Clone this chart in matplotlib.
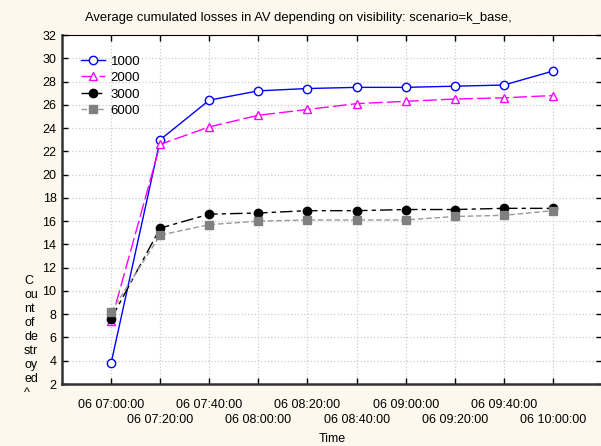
import pandas as pd
import matplotlib.pyplot as plt

# datos
tiempos = ['2000-01-06 07:00', '2000-01-06 07:20', '2000-01-06 07:40', '2000-01-06 08:00',
           '2000-01-06 08:20', '2000-01-06 08:40', '2000-01-06 09:00', '2000-01-06 09:20',
           '2000-01-06 09:40', '2000-01-06 10:00']
v1000 = [3.8, 23.0, 26.4, 27.2, 27.4, 27.5, 27.5, 27.6, 27.7, 28.9]
v2000 = [7.4, 22.6, 24.1, 25.1, 25.6, 26.1, 26.3, 26.5, 26.6, 26.8]
v3000 = [7.6, 15.4, 16.6, 16.7, 16.9, 16.9, 17.0, 17.0, 17.1, 17.1]
v6000 = [8.2, 14.8, 15.7, 16.0, 16.1, 16.1, 16.1, 16.4, 16.5, 16.9]
# etiquetas del eje x en dos filas
ticks_fila1 = ['2000-01-06 07:00', '2000-01-06 07:40', '2000-01-06 08:20',
               '2000-01-06 09:00', '2000-01-06 09:40']
ticks_fila2 = ['2000-01-06 07:20', '2000-01-06 08:00', '2000-01-06 08:40',
               '2000-01-06 09:20', '2000-01-06 10:00']
ticks_y = [2, 4, 6, 8, 10, 12, 14, 16, 18, 20, 22, 24, 26, 28, 30, 32]

t = pd.to_datetime(tiempos)

plt.rcParams['font.family'] = ['Liberation Sans', 'DejaVu Sans']
plt.rcParams['font.size'] = 9

fig = plt.figure(figsize=(6.01, 4.46), dpi=100, facecolor='#fcf8ee')
ax = fig.add_axes([0.1032, 0.139, 0.8985, 0.7825])

ax.plot(t, v1000, color='blue', lw=1, marker='o', ms=6, mfc='white', mec='blue', label='1000')
ax.plot(t, v2000, color='magenta', lw=1, dashes=(10, 3), marker='^', ms=6, mfc='white',
        mec='magenta', label='2000')
ax.plot(t, v3000, color='black', lw=1, dashes=(9, 3, 3, 3), marker='o', ms=6, mfc='black',
        mec='black', label='3000')
ax.plot(t, v6000, color='#999999', lw=1, dashes=(4, 2), marker='s', ms=6, mfc='#808080',
        mec='#808080', label='6000')

ax.set_xlim(pd.Timestamp('2000-01-06 06:40'), pd.Timestamp('2000-01-06 10:20'))
ax.set_ylim(2, 32)
ax.set_yticks(ticks_y)
f1 = pd.to_datetime(ticks_fila1)
f2 = pd.to_datetime(ticks_fila2)
ax.set_xticks(f1)
ax.set_xticklabels([x.strftime('%d %H:%M:%S') for x in f1])
ax.set_xticks(f2, minor=True)
ax.set_xticklabels([x.strftime('%d %H:%M:%S') for x in f2], minor=True)

ax.tick_params(which='both', direction='in', top=True, right=True, length=4, width=1,
               colors='black')
ax.tick_params(axis='x', which='major', pad=10.5)
ax.tick_params(axis='x', which='minor', pad=21.5)
ax.tick_params(axis='y', pad=4)
ax.grid(True, which='both', color='#cccccc', linestyle=':', lw=0.9)
for lado in ['left', 'bottom']:
    ax.spines[lado].set_linewidth(1.8)
    ax.spines[lado].set_color('#333333')
for lado in ['top', 'right']:
    ax.spines[lado].set_linewidth(0.8)

fig.text(0.496, 0.96, 'Average cumulated losses in AV depending on visibility: scenario=k_base,',
         ha='center', va='center', fontsize=9.4)
fig.text(0.553, 0.015, 'Time', ha='center', va='center', fontsize=9)
fig.text(0.04, 0.245, 'C\nou\nnt\nof\nde\nstr\noy\ned\n^', ha='left', va='center',
         fontsize=9, linespacing=1.22)

ax.legend(loc='upper left', bbox_to_anchor=(0.018, 0.968), frameon=False, handlelength=1.8,
          handletextpad=0.45, labelspacing=0.32, borderaxespad=0.3, fontsize=9.5)

fig.savefig('out.png', dpi=100, facecolor=fig.get_facecolor())
